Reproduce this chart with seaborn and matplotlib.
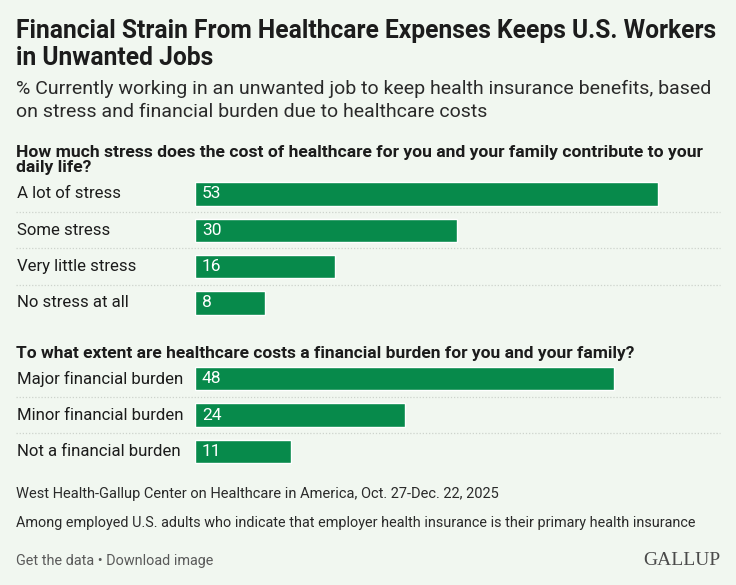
import matplotlib
matplotlib.use("Agg")
import matplotlib.pyplot as plt
import matplotlib.transforms as mtransforms
import seaborn as sns

# data
stress_labels = ["A lot of stress", "Some stress", "Very little stress", "No stress at all"]
stress_values = [53, 30, 16, 8]
burden_labels = ["Major financial burden", "Minor financial burden", "Not a financial burden"]
burden_values = [48, 24, 11]

title_lines = ["Financial Strain From Healthcare Expenses Keeps U.S. Workers", "in Unwanted Jobs"]
subtitle_lines = ["% Currently working in an unwanted job to keep health insurance benefits, based",
                  "on stress and financial burden due to healthcare costs"]
q1_lines = ["How much stress does the cost of healthcare for you and your family contribute to your",
            "daily life?"]
q2_lines = ["To what extent are healthcare costs a financial burden for you and your family?"]
source = "West Health-Gallup Center on Healthcare in America, Oct. 27-Dec. 22, 2025"
note = "Among employed U.S. adults who indicate that employer health insurance is their primary health insurance"
links = "Get the data \u2022 Download image"

BG = "#f1f7f0"
GREEN = "#078a4b"
DARK = "#1c1c1c"

sns.set_theme(style="white")
plt.rcParams["font.family"] = ["Roboto", "DejaVu Sans"]

W, H = 736, 585
fig = plt.figure(figsize=(W / 100, H / 100), dpi=100, facecolor=BG)


def fy(py):
    return 1 - py / H


def fx(px):
    return px / W


# one unit of percent in pixels, and row height
unit = (658 - 195) / 53
row = 36.3
ax_left, ax_right = 195, 720


def panel(top, labels, values):
    n = len(values)
    ax = fig.add_axes([fx(ax_left), fy(top + n * row), fx(ax_right - ax_left), n * row / H])
    sns.barplot(x=values, y=labels, ax=ax, color=GREEN, saturation=1, width=0.645, orient="h")
    ax.set_xlim(0, (ax_right - ax_left) / unit)
    ax.set_ylim(n - 0.5, -0.5)
    ax.set_facecolor("none")
    ax.set_xticks([])
    ax.set_yticks([])
    ax.set_xlabel("")
    ax.set_ylabel("")
    for s in ax.spines.values():
        s.set_visible(False)
    blend = mtransforms.blended_transform_factory(fig.transFigure, ax.transData)
    for i, (lab, v) in enumerate(zip(labels, values)):
        ax.text(fx(17), i, lab, transform=blend, ha="left", va="center",
                fontsize=12.1, color=DARK)
        ax.text(7 / unit, i, str(v), ha="left", va="center", fontsize=12.5, color="white")
    # dotted separators
    for i in range(n - 1):
        ax.plot([fx(16), fx(720)], [i + 0.5, i + 0.5], transform=blend, clip_on=False,
                color="#cdd3cc", lw=0.9, linestyle=(0, (1, 1.5)))
    return ax


panel(194 - row / 2, stress_labels, stress_values)
panel(378.7 - row / 2, burden_labels, burden_values)

# titles
for y, t in zip([38, 65], title_lines):
    fig.text(fx(16), fy(y), t, fontsize=17.7, fontweight="bold", color=DARK, va="baseline")
for y, t in zip([94, 117], subtitle_lines):
    fig.text(fx(16), fy(y), t, fontsize=14, color="#2a2a2a", va="baseline")
for y, t in zip([157, 172], q1_lines):
    fig.text(fx(16), fy(y), t, fontsize=12.6, fontweight="bold", color=DARK, va="baseline")
for y, t in zip([358], q2_lines):
    fig.text(fx(16), fy(y), t, fontsize=12.5, fontweight="bold", color=DARK, va="baseline")

# footer
fig.text(fx(16), fy(498), source, fontsize=10.5, color="#2a2a2a", va="baseline")
fig.text(fx(16), fy(527), note, fontsize=10.4, color="#2a2a2a", va="baseline")
fig.text(fx(16), fy(565), links, fontsize=10.4, color="#5a5a5a", va="baseline")
fig.text(fx(720), fy(565), "GALLUP", fontsize=14, color="#4a4a4a", va="baseline", ha="right",
         family=["Liberation Serif", "DejaVu Serif"])

fig.savefig("out.png", dpi=100, facecolor=BG)
